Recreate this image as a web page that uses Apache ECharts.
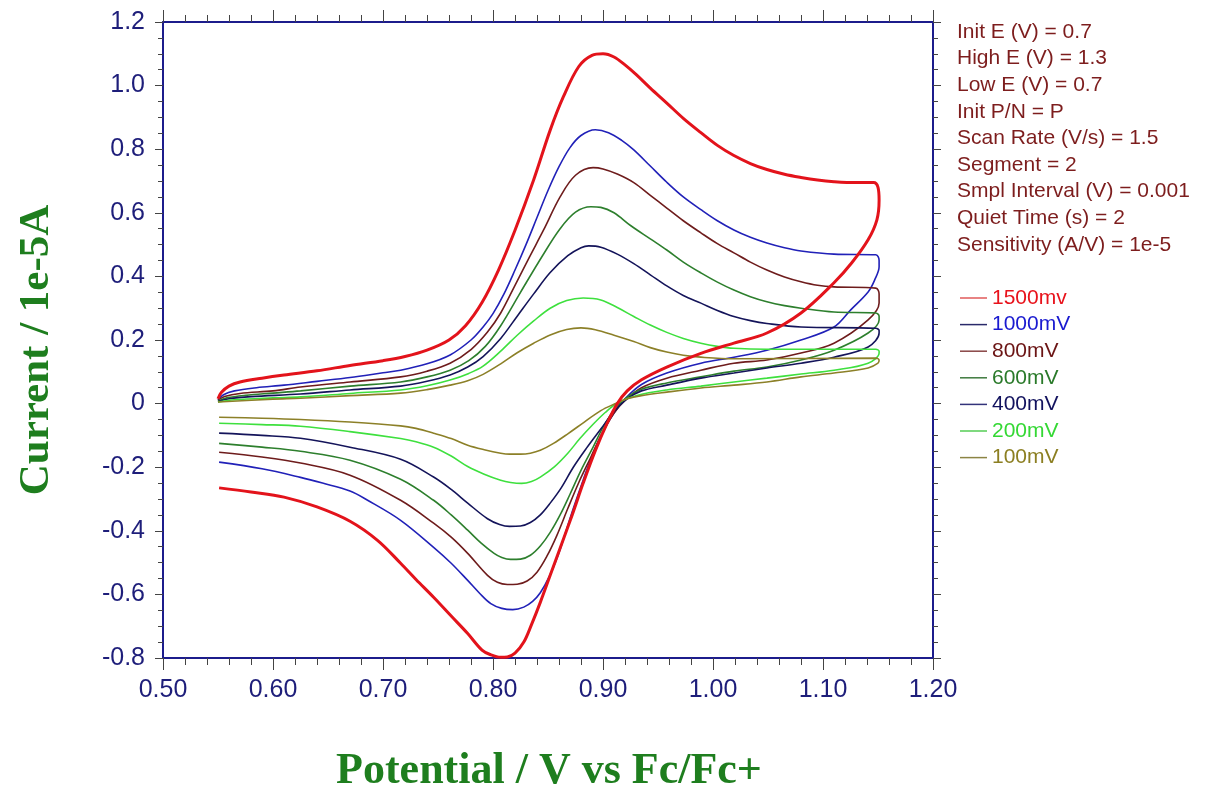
<!DOCTYPE html>
<html><head><meta charset="utf-8">
<script src="https://cdn.jsdelivr.net/npm/echarts@6/dist/echarts.min.js"></script>
<style>html,body{margin:0;padding:0;background:#fff}#c{width:1213px;height:794px}</style>
</head><body><div id="c"></div>
<script>
// ---- data (potential V, current 1e-5 A) ----
const seriesNames = ['1500mv', '1000mV', '800mV', '600mV', '400mV', '200mV', '100mV'];

const cv1500 = [
  [0.550,0.015],[0.553,0.035],[0.560,0.055],[0.570,0.068],[0.590,0.080],[0.610,0.090],[0.640,0.103],
  [0.670,0.120],[0.700,0.135],[0.720,0.148],[0.740,0.168],[0.760,0.200],[0.775,0.245],[0.790,0.318],
  [0.805,0.420],[0.820,0.545],[0.837,0.704],[0.852,0.860],[0.864,0.965],[0.878,1.060],[0.890,1.095],
  [0.900,1.100],[0.910,1.090],[0.920,1.065],[0.930,1.035],[0.943,0.992],[0.958,0.945],[0.973,0.897],
  [0.989,0.852],[1.004,0.812],[1.019,0.780],[1.034,0.755],[1.049,0.736],[1.065,0.721],[1.080,0.711],
  [1.095,0.703],[1.110,0.698],[1.130,0.695],[1.146,0.695],[1.150,0.680],
  [1.151,0.640],[1.149,0.578],[1.141,0.515],[1.126,0.442],[1.110,0.380],[1.080,0.285],[1.049,0.222],
  [1.019,0.190],[0.989,0.158],[0.958,0.115],[0.935,0.075],[0.922,0.040],[0.913,0.000],[0.904,-0.060],
  [0.893,-0.148],[0.882,-0.250],[0.872,-0.350],[0.861,-0.455],[0.852,-0.540],[0.843,-0.625],[0.835,-0.695],
  [0.828,-0.750],[0.820,-0.785],[0.813,-0.797],[0.807,-0.798],[0.798,-0.790],[0.790,-0.775],[0.777,-0.723],
  [0.762,-0.668],[0.746,-0.609],[0.730,-0.553],[0.716,-0.502],[0.695,-0.430],[0.670,-0.370],[0.640,-0.325],
  [0.610,-0.294],[0.580,-0.278],[0.551,-0.265]
];
const cv1000 = [
  [0.550,0.012],[0.555,0.028],[0.565,0.040],[0.585,0.050],[0.610,0.058],[0.640,0.070],[0.670,0.082],
  [0.700,0.097],[0.716,0.105],[0.740,0.125],[0.761,0.153],[0.780,0.200],[0.791,0.241],[0.800,0.283],
  [0.810,0.345],[0.820,0.420],[0.830,0.500],[0.840,0.585],[0.850,0.670],[0.860,0.745],[0.870,0.805],
  [0.880,0.843],[0.893,0.861],[0.905,0.852],[0.917,0.828],[0.928,0.798],[0.943,0.747],[0.958,0.696],
  [0.973,0.650],[0.989,0.610],[1.004,0.575],[1.019,0.546],[1.034,0.523],[1.049,0.505],[1.065,0.490],
  [1.080,0.480],[1.110,0.470],[1.148,0.468],
  [1.151,0.450],[1.151,0.430],[1.147,0.389],[1.141,0.351],[1.125,0.294],[1.110,0.241],[1.080,0.200],
  [1.049,0.168],[1.019,0.146],[0.989,0.127],[0.958,0.096],[0.935,0.060],[0.920,0.015],[0.910,-0.030],
  [0.900,-0.088],[0.891,-0.156],[0.882,-0.240],[0.873,-0.330],[0.866,-0.405],[0.859,-0.478],[0.851,-0.545],
  [0.843,-0.595],[0.836,-0.622],[0.828,-0.640],[0.818,-0.648],[0.808,-0.644],[0.798,-0.629],[0.788,-0.597],
  [0.777,-0.556],[0.762,-0.502],[0.746,-0.452],[0.716,-0.367],[0.686,-0.304],[0.670,-0.275],[0.645,-0.250],
  [0.625,-0.232],[0.590,-0.205],[0.551,-0.184]
];
const cv800 = [
  [0.550,0.010],[0.556,0.022],[0.570,0.032],[0.600,0.040],[0.625,0.052],[0.670,0.068],[0.716,0.084],
  [0.740,0.102],[0.761,0.127],[0.780,0.170],[0.795,0.225],[0.807,0.285],[0.820,0.372],[0.833,0.460],
  [0.846,0.546],[0.861,0.650],[0.875,0.718],[0.891,0.742],[0.900,0.738],[0.913,0.722],[0.928,0.695],
  [0.943,0.655],[0.958,0.615],[0.973,0.575],[0.989,0.537],[1.004,0.503],[1.019,0.474],[1.034,0.445],
  [1.049,0.420],[1.065,0.398],[1.080,0.383],[1.095,0.372],[1.110,0.367],[1.148,0.363],
  [1.151,0.345],[1.151,0.316],[1.141,0.263],[1.110,0.190],[1.080,0.159],[1.049,0.137],[1.019,0.127],
  [0.989,0.105],[0.958,0.080],[0.935,0.050],[0.920,0.010],[0.910,-0.030],[0.899,-0.095],[0.889,-0.168],
  [0.878,-0.248],[0.868,-0.330],[0.858,-0.415],[0.849,-0.480],[0.840,-0.530],[0.831,-0.558],[0.822,-0.568],
  [0.813,-0.569],[0.804,-0.562],[0.795,-0.540],[0.777,-0.471],[0.762,-0.420],[0.746,-0.376],[0.716,-0.304],
  [0.670,-0.225],[0.625,-0.187],[0.590,-0.168],[0.551,-0.153]
];
const cv600 = [
  [0.550,0.008],[0.558,0.018],[0.575,0.026],[0.600,0.033],[0.625,0.040],[0.670,0.055],[0.716,0.068],
  [0.740,0.084],[0.761,0.105],[0.778,0.135],[0.793,0.180],[0.807,0.245],[0.825,0.350],[0.845,0.465],
  [0.861,0.550],[0.875,0.602],[0.889,0.619],[0.898,0.617],[0.910,0.600],[0.925,0.560],[0.943,0.518],
  [0.958,0.483],[0.973,0.445],[0.989,0.411],[1.004,0.382],[1.019,0.357],[1.034,0.336],[1.049,0.320],
  [1.065,0.308],[1.080,0.300],[1.110,0.288],[1.148,0.285],
  [1.151,0.275],[1.151,0.263],[1.141,0.222],[1.110,0.168],[1.080,0.137],[1.049,0.115],[1.019,0.102],
  [0.989,0.084],[0.958,0.065],[0.935,0.045],[0.920,0.015],[0.910,-0.020],[0.900,-0.075],[0.891,-0.137],
  [0.880,-0.210],[0.870,-0.285],[0.861,-0.350],[0.852,-0.405],[0.843,-0.448],[0.834,-0.477],[0.825,-0.489],
  [0.816,-0.490],[0.808,-0.484],[0.801,-0.471],[0.789,-0.438],[0.777,-0.398],[0.762,-0.350],[0.746,-0.304],
  [0.716,-0.238],[0.670,-0.178],[0.625,-0.150],[0.590,-0.137],[0.551,-0.125]
];
const cv400 = [
  [0.550,0.006],[0.560,0.015],[0.580,0.022],[0.625,0.030],[0.670,0.043],[0.716,0.055],[0.740,0.070],
  [0.761,0.090],[0.777,0.115],[0.791,0.148],[0.807,0.205],[0.822,0.275],[0.837,0.345],[0.852,0.412],
  [0.868,0.465],[0.880,0.490],[0.887,0.496],[0.898,0.492],[0.913,0.470],[0.928,0.440],[0.943,0.405],
  [0.958,0.370],[0.973,0.340],[0.989,0.316],[1.004,0.293],[1.019,0.274],[1.034,0.261],[1.049,0.252],
  [1.080,0.241],[1.148,0.237],
  [1.151,0.230],[1.151,0.222],[1.141,0.178],[1.110,0.146],[1.080,0.127],[1.049,0.112],[1.019,0.096],
  [0.989,0.080],[0.958,0.058],[0.935,0.040],[0.922,0.015],[0.910,-0.025],[0.898,-0.080],[0.885,-0.140],
  [0.873,-0.200],[0.862,-0.265],[0.852,-0.313],[0.843,-0.350],[0.834,-0.374],[0.825,-0.385],[0.815,-0.386],
  [0.806,-0.380],[0.795,-0.362],[0.777,-0.313],[0.762,-0.270],[0.746,-0.231],[0.716,-0.175],[0.670,-0.137],
  [0.625,-0.109],[0.590,-0.100],[0.551,-0.093]
];
const cv200 = [
  [0.550,0.005],[0.565,0.012],[0.600,0.018],[0.625,0.021],[0.670,0.032],[0.716,0.043],[0.740,0.056],
  [0.761,0.074],[0.778,0.095],[0.791,0.118],[0.807,0.165],[0.822,0.215],[0.837,0.260],[0.852,0.300],
  [0.867,0.324],[0.882,0.332],[0.898,0.326],[0.913,0.302],[0.928,0.274],[0.943,0.247],[0.958,0.224],
  [0.973,0.205],[0.989,0.190],[1.004,0.180],[1.019,0.174],[1.049,0.171],[1.148,0.171],
  [1.151,0.165],[1.151,0.159],[1.141,0.127],[1.110,0.105],[1.080,0.093],[1.049,0.080],[1.019,0.068],
  [0.989,0.055],[0.958,0.043],[0.930,0.025],[0.913,0.002],[0.902,-0.028],[0.891,-0.065],[0.879,-0.110],
  [0.868,-0.156],[0.856,-0.198],[0.843,-0.231],[0.835,-0.245],[0.826,-0.251],[0.816,-0.248],[0.807,-0.241],
  [0.792,-0.222],[0.777,-0.198],[0.762,-0.165],[0.746,-0.137],[0.730,-0.120],[0.716,-0.110],[0.670,-0.088],
  [0.625,-0.071],[0.590,-0.066],[0.551,-0.062]
];
const cv100 = [
  [0.550,0.005],[0.600,0.014],[0.625,0.017],[0.670,0.025],[0.716,0.033],[0.740,0.044],[0.761,0.058],
  [0.777,0.072],[0.791,0.092],[0.807,0.125],[0.822,0.160],[0.837,0.190],[0.852,0.216],[0.867,0.233],
  [0.880,0.238],[0.893,0.232],[0.910,0.215],[0.928,0.195],[0.943,0.176],[0.958,0.162],[0.973,0.152],
  [0.989,0.146],[1.019,0.141],[1.148,0.143],
  [1.151,0.137],[1.150,0.127],[1.141,0.112],[1.110,0.096],[1.080,0.084],[1.049,0.068],[1.019,0.058],
  [0.989,0.049],[0.958,0.036],[0.935,0.025],[0.922,0.015],[0.910,-0.002],[0.898,-0.022],[0.883,-0.058],
  [0.868,-0.095],[0.855,-0.125],[0.843,-0.147],[0.834,-0.156],[0.825,-0.159],[0.815,-0.159],[0.807,-0.156],
  [0.792,-0.145],[0.777,-0.131],[0.762,-0.110],[0.746,-0.093],[0.730,-0.078],[0.716,-0.070],[0.670,-0.058],
  [0.625,-0.050],[0.590,-0.046],[0.551,-0.043]
];
const paramLines = [
  'Init E (V) = 0.7', 'High E (V) = 1.3', 'Low E (V) = 0.7', 'Init P/N = P', 'Scan Rate (V/s) = 1.5',
  'Segment = 2', 'Smpl Interval (V) = 0.001', 'Quiet Time (s) = 2', 'Sensitivity (A/V) = 1e-5'
];
const xRange = [0.5, 1.2, 0.1];
const yRange = [-0.8, 1.2, 0.2];
const xTitle = 'Potential / V vs Fc/Fc+';
const yTitle = 'Current / 1e-5A';

// ---- styles ----
const allData = [cv1500, cv1000, cv800, cv600, cv400, cv200, cv100];
const lineColors = ['#e3131b', '#2121b8', '#6e1c1c', '#2d7f2d', '#14145a', '#3ee03e', '#8c8028'];
const legendLineColors = ['#e05a5a', '#2a2a6a', '#884444', '#3f7a3f', '#33337a', '#55cc55', '#8c8444'];
const textColors = ['#e8121b', '#1a1ad0', '#6b1414', '#2a7a2a', '#12125e', '#34d834', '#8c7f22'];
const widths = [3, 1.6, 1.6, 1.6, 1.6, 1.6, 1.6];
const frame = '#1c1c8c';
const tickC = '#444';
const labC = '#1e1e7a';

const chart = echarts.init(document.getElementById('c'), null, {renderer: 'canvas'});

function xAx(pos) {
  const bottom = pos === 'bottom';
  return {
    type: 'value', position: pos, min: xRange[0], max: xRange[1], interval: xRange[2],
    axisLine: {show: true, onZero: false, lineStyle: {color: frame, width: 2}},
    axisTick: {show: true, inside: false, length: 12, lineStyle: {color: tickC, width: 1}},
    minorTick: {show: true, splitNumber: 5, length: 7, lineStyle: {color: tickC, width: 1}},
    splitLine: {show: false},
    axisLabel: {show: bottom, formatter: v => v.toFixed(2), color: labC, fontSize: 25,
      fontFamily: '"Liberation Sans", Arial, sans-serif', margin: 20}
  };
}
function yAx(pos) {
  const left = pos === 'left';
  return {
    type: 'value', position: pos, min: yRange[0], max: yRange[1], interval: yRange[2],
    axisLine: {show: true, onZero: false, lineStyle: {color: frame, width: 2}},
    axisTick: {show: true, inside: false, length: 8, lineStyle: {color: tickC, width: 1}},
    minorTick: {show: true, splitNumber: 4, length: 5, lineStyle: {color: tickC, width: 1}},
    splitLine: {show: false},
    axisLabel: {show: left, formatter: v => (Math.abs(v) < 1e-9 ? '0' : v.toFixed(1)), color: labC,
      fontSize: 25, fontFamily: '"Liberation Sans", Arial, sans-serif', margin: 18}
  };
}

const series = allData.map((d, i) => ({
  name: seriesNames[i], type: 'line', data: d, xAxisIndex: 0, yAxisIndex: 0,
  showSymbol: false, symbol: 'none', smooth: 0.35, z: i === 0 ? 5 : 3,
  lineStyle: {color: lineColors[i], width: widths[i]}, itemStyle: {color: lineColors[i]},
  emphasis: {disabled: true}
}));

const graphics = paramLines.map((t, i) => ({
  type: 'text', x: 957, y: 32 + i * 26.6,
  style: {text: t, font: '21px "Liberation Sans", Arial, sans-serif', fill: '#7d1d1d', verticalAlign: 'middle', align: 'left'}
}));
graphics.push({
  type: 'text', x: 549, y: 772,
  style: {text: xTitle, font: 'bold 44px "Liberation Serif", "Times New Roman", serif', fill: '#1e7e1e', align: 'center', verticalAlign: 'middle'}
});
graphics.push({
  type: 'text', x: 37, y: 350, rotation: Math.PI / 2,
  style: {text: yTitle, font: 'bold 43px "Liberation Serif", "Times New Roman", serif', fill: '#1e7e1e', align: 'center', verticalAlign: 'middle'}
});

chart.setOption({
  animation: false,
  backgroundColor: '#fff',
  grid: {left: 163, right: 280, top: 22, bottom: 136, containLabel: false},
  xAxis: [xAx('bottom'), xAx('top')],
  yAxis: [yAx('left'), yAx('right')],
  legend: {
    orient: 'vertical', left: 955, top: 282, itemGap: 4.6, itemWidth: 27, itemHeight: 1.5, icon: 'rect',
    textStyle: {fontSize: 21, lineHeight: 22, fontFamily: '"Liberation Sans", Arial, sans-serif'},
    selectedMode: false,
    data: seriesNames.map((n, i) => ({name: n, itemStyle: {color: legendLineColors[i]}, textStyle: {color: textColors[i]}}))
  },
  graphic: graphics,
  series: series
});
</script>
</body></html>
